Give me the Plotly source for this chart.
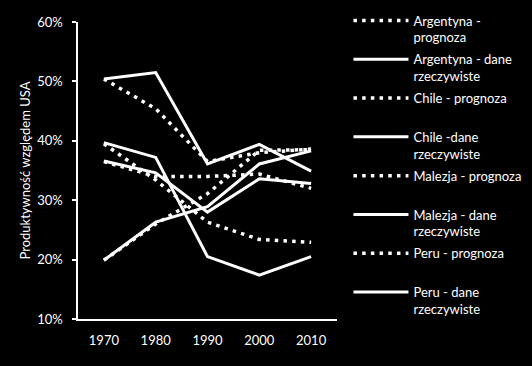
import plotly.graph_objects as go

years = ["1970", "1980", "1990", "2000", "2010"]

argentyna_prognoza = [50.4, 45.4, 36.5, 38.0, 38.6]
argentyna_dane = [50.4, 51.5, 36.1, 39.4, 34.9]
chile_prognoza = [36.5, 34.0, 34.0, 34.4, 32.0]
chile_dane = [36.6, 34.6, 28.0, 33.6, 32.8]
malezja_prognoza = [19.9, 26.0, 31.1, 38.4, 38.5]
malezja_dane = [19.9, 26.3, 28.9, 36.1, 38.3]
peru_prognoza = [39.5, 33.4, 26.3, 23.4, 22.9]
peru_dane = [39.7, 37.2, 20.5, 17.4, 20.5]

y_ticks = [10, 20, 30, 40, 50, 60]

series = [
    ("Argentyna -<br>prognoza", argentyna_prognoza, True),
    ("Argentyna - dane<br>rzeczywiste", argentyna_dane, False),
    ("Chile - prognoza<br> ", chile_prognoza, True),
    ("Chile -dane<br>rzeczywiste", chile_dane, False),
    ("Malezja - prognoza<br> ", malezja_prognoza, True),
    ("Malezja - dane<br>rzeczywiste", malezja_dane, False),
    ("Peru - prognoza<br> ", peru_prognoza, True),
    ("Peru - dane<br>rzeczywiste", peru_dane, False),
]

FONT = "Lato"
WHITE = "#ffffff"

fig = go.Figure()
for i, (name, vals, dotted) in enumerate(series):
    if dotted:
        line = dict(color=WHITE, width=3.5, dash="3.5px,5.2px")
    else:
        line = dict(color=WHITE, width=3)
    fig.add_trace(go.Scatter(
        x=years, y=vals, name=name, mode="lines", line=line,
        legendgroup=f"g{i}",
    ))

fig.update_layout(
    width=532, height=366,
    paper_bgcolor="#000000", plot_bgcolor="#000000",
    margin=dict(l=78, r=195, t=22, b=47),
    font=dict(family=FONT, size=13, color=WHITE),
    showlegend=True,
    legend=dict(
        xref="container", yref="container",
        x=0.655, y=0.985, xanchor="left", yanchor="top",
        bgcolor="rgba(0,0,0,0)",
        font=dict(family=FONT, size=13, color=WHITE),
        valign="top",
        itemwidth=55,
        tracegroupgap=2,
        maxheight=366,
    ),
    xaxis=dict(
        type="category", range=[-0.5, 4.5],
        showline=True, linecolor=WHITE, linewidth=1.5,
        showgrid=False, zeroline=False, ticks="",
        ticklabelstandoff=9,
        tickfont=dict(family=FONT, size=13, color=WHITE),
    ),
    yaxis=dict(
        range=[10, 60], tickvals=y_ticks,
        ticktext=[f"{v}%" for v in y_ticks],
        showline=True, linecolor=WHITE, linewidth=1.5,
        showgrid=False, zeroline=False,
        ticks="outside", ticklen=4, tickcolor=WHITE, tickwidth=1.5,
        ticklabelstandoff=7,
        tickfont=dict(family=FONT, size=13, color=WHITE),
        title=dict(text="Produktywność względem USA", standoff=4,
                   font=dict(family=FONT, size=13, color=WHITE)),
    ),
)

fig.write_html("out.html", config={"displayModeBar": False},
               post_script="document.body.style.margin='0';")
